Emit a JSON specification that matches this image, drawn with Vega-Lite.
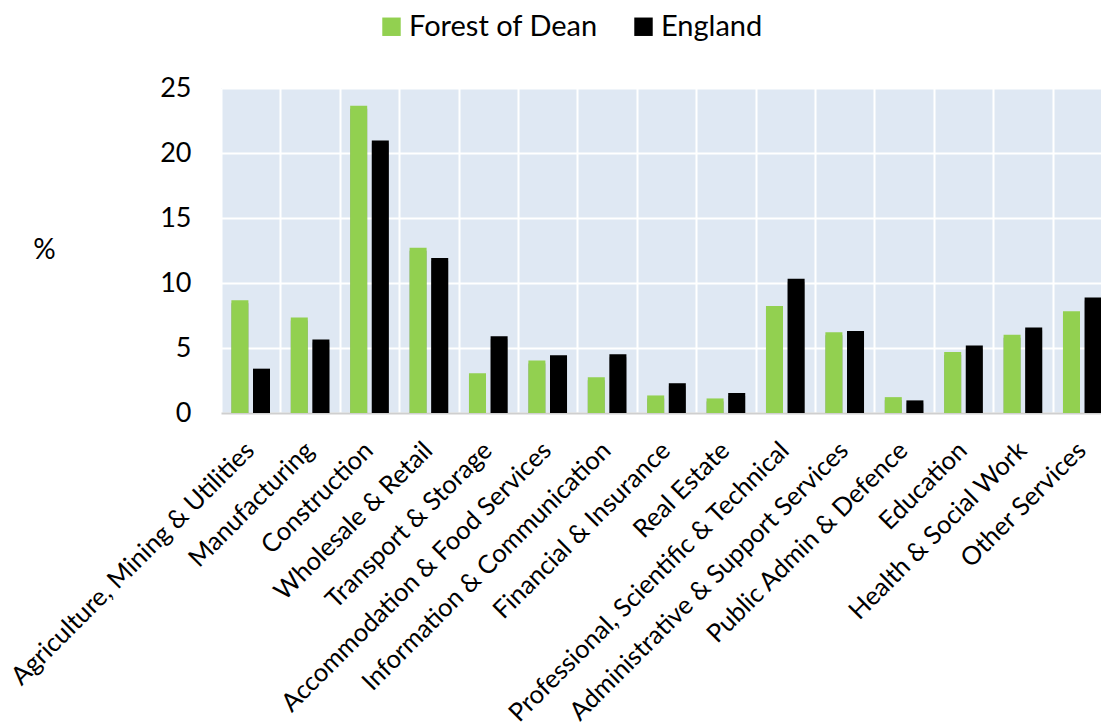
{
  "$schema": "https://vega.github.io/schema/vega-lite/v6.json",
  "autosize": {"type": "none"},
  "padding": {"left": 221, "top": 88, "right": 0, "bottom": 314},
  "width": 880,
  "height": 325,
  "background": "#ffffff",
  "config": {
    "view": {"fill": "#dfe8f3", "stroke": null},
    "font": "Lato",
    "axis": {"labelFont": "Lato", "titleFont": "Lato", "labelColor": "#000000", "titleColor": "#000000"},
    "legend": {"labelFont": "Lato"}
  },
  "data": {
    "values": [
      {"industry": "Agriculture, Mining & Utilities", "area": "Forest of Dean", "pct": 8.67},
      {"industry": "Agriculture, Mining & Utilities", "area": "England", "pct": 3.41},
      {"industry": "Manufacturing", "area": "Forest of Dean", "pct": 7.34},
      {"industry": "Manufacturing", "area": "England", "pct": 5.66},
      {"industry": "Construction", "area": "Forest of Dean", "pct": 23.64},
      {"industry": "Construction", "area": "England", "pct": 20.96},
      {"industry": "Wholesale & Retail", "area": "Forest of Dean", "pct": 12.72},
      {"industry": "Wholesale & Retail", "area": "England", "pct": 11.93},
      {"industry": "Transport & Storage", "area": "Forest of Dean", "pct": 3.06},
      {"industry": "Transport & Storage", "area": "England", "pct": 5.91},
      {"industry": "Accommodation & Food Services", "area": "Forest of Dean", "pct": 4.03},
      {"industry": "Accommodation & Food Services", "area": "England", "pct": 4.44},
      {"industry": "Information & Communication", "area": "Forest of Dean", "pct": 2.75},
      {"industry": "Information & Communication", "area": "England", "pct": 4.51},
      {"industry": "Financial & Insurance", "area": "Forest of Dean", "pct": 1.35},
      {"industry": "Financial & Insurance", "area": "England", "pct": 2.29},
      {"industry": "Real Estate", "area": "Forest of Dean", "pct": 1.12},
      {"industry": "Real Estate", "area": "England", "pct": 1.53},
      {"industry": "Professional, Scientific & Technical", "area": "Forest of Dean", "pct": 8.23},
      {"industry": "Professional, Scientific & Technical", "area": "England", "pct": 10.33},
      {"industry": "Administrative & Support Services", "area": "Forest of Dean", "pct": 6.22},
      {"industry": "Administrative & Support Services", "area": "England", "pct": 6.3},
      {"industry": "Public Admin & Defence", "area": "Forest of Dean", "pct": 1.22},
      {"industry": "Public Admin & Defence", "area": "England", "pct": 0.97},
      {"industry": "Education", "area": "Forest of Dean", "pct": 4.69},
      {"industry": "Education", "area": "England", "pct": 5.2},
      {"industry": "Health & Social Work", "area": "Forest of Dean", "pct": 6.01},
      {"industry": "Health & Social Work", "area": "England", "pct": 6.58},
      {"industry": "Other Services", "area": "Forest of Dean", "pct": 7.83},
      {"industry": "Other Services", "area": "England", "pct": 8.88}
    ]
  },
  "encoding": {
    "x": {
      "field": "industry",
      "type": "nominal",
      "sort": null,
      "scale": {"paddingInner": 0, "paddingOuter": 0, "range": [0, 891]},
      "axis": {
        "title": null,
        "labelAngle": -45,
        "labelAlign": "right",
        "labelBaseline": "middle",
        "labelFontSize": 25.5,
        "labelPadding": 33,
        "labelOffset": -1,
        "labelLimit": 500,
        "ticks": false,
        "tickBand": "extent",
        "grid": true,
        "gridColor": "#ffffff",
        "gridWidth": 2,
        "gridOpacity": 1,
        "domain": true,
        "domainColor": "#cfcfcf",
        "domainWidth": 2
      }
    },
    "xOffset": {
      "field": "area",
      "type": "nominal",
      "sort": ["Forest of Dean", "England"],
      "scale": {"domain": ["Forest of Dean", "England"], "paddingInner": 0.213, "paddingOuter": 0.48}
    },
    "y": {
      "field": "pct",
      "type": "quantitative",
      "scale": {"domain": [0, 25], "nice": false},
      "axis": {
        "title": "%",
        "titleAngle": 0,
        "titleX": -177,
        "titleY": 162,
        "titleAlign": "center",
        "titleBaseline": "middle",
        "titleFontSize": 28,
        "titleFontWeight": "normal",
        "values": [0, 5, 10, 15, 20, 25],
        "labelFontSize": 27,
        "labelPadding": 30,
        "ticks": false,
        "domain": false,
        "grid": true,
        "gridColor": "#ffffff",
        "gridWidth": 2,
        "gridOpacity": 1
      }
    }
  },
  "layer": [
    {
      "mark": {"type": "bar", "color": "#4a4e54", "opacity": 0.5, "xOffset": 3, "yOffset": 3, "clip": true},
      "encoding": {}
    },
    {
      "mark": {"type": "bar", "clip": true},
      "encoding": {
        "color": {
          "field": "area",
          "type": "nominal",
          "scale": {"domain": ["Forest of Dean", "England"], "range": ["#92d050", "#000000"]},
          "legend": {
            "title": null,
            "orient": "none",
            "direction": "horizontal",
            "legendX": 156,
            "legendY": -76,
            "symbolType": "square",
            "symbolSize": 340,
            "symbolStrokeWidth": 0,
            "symbolOpacity": 1,
            "labelFontSize": 29,
            "labelLimit": 400,
            "labelOffset": 3,
            "columnPadding": 31
          }
        }
      }
    }
  ]
}
